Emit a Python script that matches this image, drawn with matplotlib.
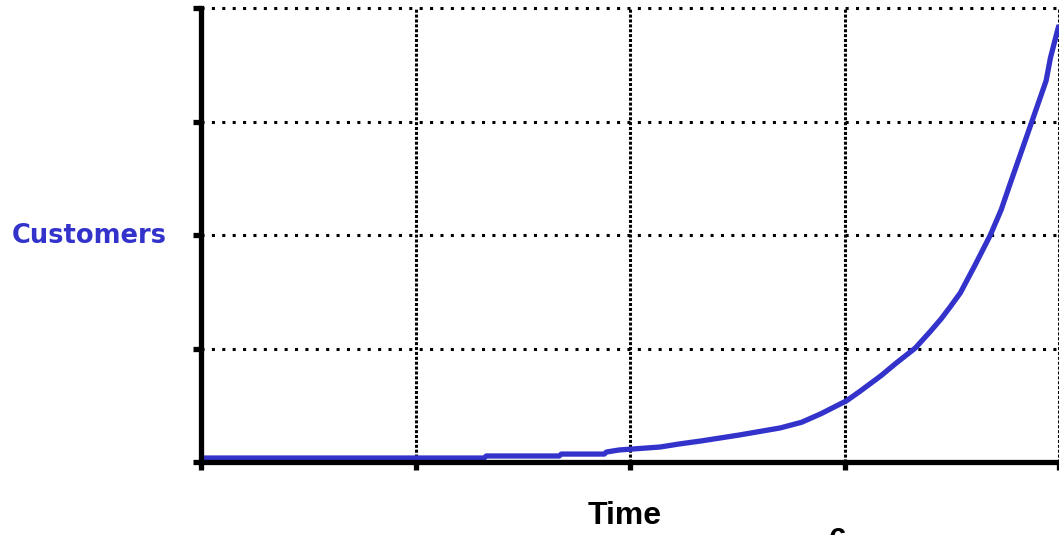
import matplotlib
matplotlib.use('Agg')
import matplotlib.pyplot as plt

# values (grid units: 4 x 4, no tick labels)
time = [0.0, 1.32, 1.33, 1.67, 1.68, 1.88, 1.89, 1.95, 2.14, 2.23, 2.33,
        2.51, 2.70, 2.80, 2.89, 3.01, 3.07, 3.17, 3.24, 3.33, 3.40, 3.45,
        3.49, 3.54, 3.61, 3.68, 3.73, 3.77, 3.87, 3.94, 3.96, 3.99, 4.0]
customers = [0.035, 0.035, 0.053, 0.053, 0.070, 0.070, 0.088, 0.106, 0.132,
             0.159, 0.185, 0.238, 0.300, 0.350, 0.425, 0.540, 0.620, 0.760,
             0.870, 1.004, 1.150, 1.260, 1.360, 1.490, 1.740, 2.0, 2.22,
             2.44, 2.98, 3.36, 3.56, 3.78, 3.85]
x_grid = [0, 1, 2, 3, 4]
y_grid = [0, 1, 2, 3, 4]

LINE_COLOR = '#3333CC'

fig = plt.figure(figsize=(10.59, 5.35), dpi=100)
ax = fig.add_axes([201 / 1059, 73 / 535, 858 / 1059, 454 / 535])

ax.set_xlim(0, 4)
ax.set_ylim(0, 4)

# dotted grid, horizontal sparse, vertical dense
for y in y_grid[1:]:
    ax.axhline(y, color='black', lw=2.2, ls=(0, (1, 2.4)), zorder=1, clip_on=False)
for x in x_grid[1:]:
    ax.axvline(x, color='black', lw=2.2, ls=(0, (1, 0.6)), zorder=1)

ax.plot(time, customers, color=LINE_COLOR, lw=3.8, zorder=3,
        solid_capstyle='butt', solid_joinstyle='round', clip_on=False)

for side in ('top', 'right'):
    ax.spines[side].set_visible(False)
for side in ('left', 'bottom'):
    ax.spines[side].set_linewidth(3.8)
    ax.spines[side].set_zorder(4)

ax.set_xticks(x_grid)
ax.set_yticks(y_grid)
ax.tick_params(direction='out', length=6, width=3.8, labelbottom=False, labelleft=False)

fig.text(89 / 1059, 1 - 236 / 535, 'Customers', color=LINE_COLOR, fontsize=18.5,
         fontweight='bold', family='DejaVu Sans', ha='center', va='center')
fig.text(625 / 1059, 1 - 516 / 535, 'Time', color='black', fontsize=23,
         fontweight='bold', family='Liberation Sans', ha='center', va='center')
# partly cut-off glyph at bottom edge
fig.text(838 / 1059, -22 / 535, '6', color='black', fontsize=23,
         fontweight='bold', family='Liberation Sans', ha='center', va='bottom')

fig.savefig('out.png', dpi=100)
